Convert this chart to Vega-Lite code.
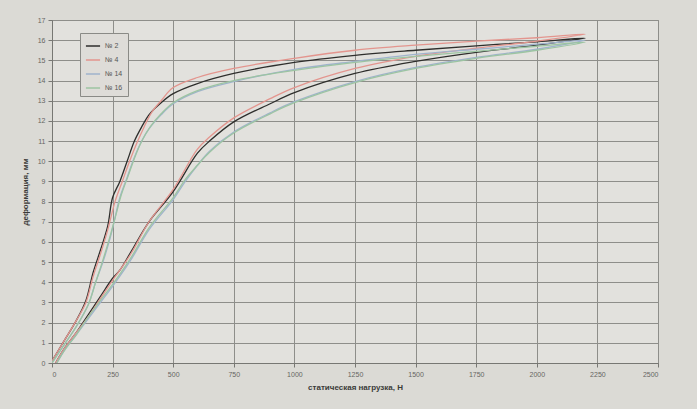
{
  "$schema": "https://vega.github.io/schema/vega-lite/v6.json",
  "autosize": "none",
  "width": 606,
  "height": 343,
  "padding": {"left": 52, "top": 20, "right": 39, "bottom": 46},
  "background": "#dbdad5",
  "config": {
    "view": {"stroke": "#888884", "fill": "#e2e1dd"},
    "axis": {
      "gridColor": "#8e8e8a", "gridOpacity": 1, "gridWidth": 1,
      "domainColor": "#777773", "tickColor": "#777773", "tickSize": 4,
      "labelColor": "#666662", "labelFontSize": 7, "labelFont": "Liberation Sans",
      "titleColor": "#3a3a38", "titleFontSize": 8, "titleFont": "Liberation Sans", "titleFontWeight": "bold"
    }
  },
  "data": {"values": [
    {"s":"№ 2","i":1,"x":0,"y":0.1},{"s":"№ 2","i":2,"x":50,"y":1.1},{"s":"№ 2","i":3,"x":100,"y":2.1},{"s":"№ 2","i":4,"x":140,"y":3.1},{"s":"№ 2","i":5,"x":170,"y":4.5},{"s":"№ 2","i":6,"x":200,"y":5.6},{"s":"№ 2","i":7,"x":230,"y":6.8},{"s":"№ 2","i":8,"x":250,"y":8.2},{"s":"№ 2","i":9,"x":280,"y":9.0},{"s":"№ 2","i":10,"x":310,"y":10.0},{"s":"№ 2","i":11,"x":340,"y":11.0},{"s":"№ 2","i":12,"x":370,"y":11.7},{"s":"№ 2","i":13,"x":400,"y":12.3},{"s":"№ 2","i":14,"x":450,"y":12.9},{"s":"№ 2","i":15,"x":500,"y":13.35},{"s":"№ 2","i":16,"x":600,"y":13.85},{"s":"№ 2","i":17,"x":750,"y":14.35},{"s":"№ 2","i":18,"x":1000,"y":14.9},{"s":"№ 2","i":19,"x":1250,"y":15.25},{"s":"№ 2","i":20,"x":1500,"y":15.5},{"s":"№ 2","i":21,"x":1750,"y":15.72},{"s":"№ 2","i":22,"x":2000,"y":15.92},{"s":"№ 2","i":23,"x":2200,"y":16.1},
    {"s":"№ 2","i":24,"x":2000,"y":15.75},{"s":"№ 2","i":25,"x":1750,"y":15.4},{"s":"№ 2","i":26,"x":1500,"y":14.95},{"s":"№ 2","i":27,"x":1250,"y":14.35},{"s":"№ 2","i":28,"x":1000,"y":13.4},{"s":"№ 2","i":29,"x":900,"y":12.85},{"s":"№ 2","i":30,"x":750,"y":11.95},{"s":"№ 2","i":31,"x":650,"y":11.0},{"s":"№ 2","i":32,"x":600,"y":10.4},{"s":"№ 2","i":33,"x":500,"y":8.5},{"s":"№ 2","i":34,"x":400,"y":7.0},{"s":"№ 2","i":35,"x":330,"y":5.6},{"s":"№ 2","i":36,"x":280,"y":4.6},{"s":"№ 2","i":37,"x":250,"y":4.2},{"s":"№ 2","i":38,"x":200,"y":3.3},{"s":"№ 2","i":39,"x":150,"y":2.4},{"s":"№ 2","i":40,"x":100,"y":1.5},{"s":"№ 2","i":41,"x":50,"y":0.7},{"s":"№ 2","i":42,"x":15,"y":0},

    {"s":"№ 4","i":1,"x":0,"y":0.1},{"s":"№ 4","i":2,"x":50,"y":1.1},{"s":"№ 4","i":3,"x":100,"y":2.1},{"s":"№ 4","i":4,"x":140,"y":3.0},{"s":"№ 4","i":5,"x":170,"y":4.3},{"s":"№ 4","i":6,"x":200,"y":5.4},{"s":"№ 4","i":7,"x":230,"y":6.6},{"s":"№ 4","i":8,"x":260,"y":8.0},{"s":"№ 4","i":9,"x":290,"y":9.0},{"s":"№ 4","i":10,"x":320,"y":10.0},{"s":"№ 4","i":11,"x":350,"y":10.9},{"s":"№ 4","i":12,"x":380,"y":11.7},{"s":"№ 4","i":13,"x":410,"y":12.4},{"s":"№ 4","i":14,"x":450,"y":13.0},{"s":"№ 4","i":15,"x":500,"y":13.65},{"s":"№ 4","i":16,"x":600,"y":14.15},{"s":"№ 4","i":17,"x":750,"y":14.6},{"s":"№ 4","i":18,"x":1000,"y":15.1},{"s":"№ 4","i":19,"x":1250,"y":15.5},{"s":"№ 4","i":20,"x":1500,"y":15.75},{"s":"№ 4","i":21,"x":1750,"y":15.95},{"s":"№ 4","i":22,"x":2000,"y":16.12},{"s":"№ 4","i":23,"x":2200,"y":16.3},
    {"s":"№ 4","i":24,"x":2000,"y":15.95},{"s":"№ 4","i":25,"x":1750,"y":15.6},{"s":"№ 4","i":26,"x":1500,"y":15.2},{"s":"№ 4","i":27,"x":1250,"y":14.6},{"s":"№ 4","i":28,"x":1000,"y":13.65},{"s":"№ 4","i":29,"x":900,"y":13.1},{"s":"№ 4","i":30,"x":750,"y":12.15},{"s":"№ 4","i":31,"x":650,"y":11.2},{"s":"№ 4","i":32,"x":600,"y":10.6},{"s":"№ 4","i":33,"x":500,"y":8.6},{"s":"№ 4","i":34,"x":400,"y":7.0},{"s":"№ 4","i":35,"x":330,"y":5.5},{"s":"№ 4","i":36,"x":280,"y":4.6},{"s":"№ 4","i":37,"x":250,"y":4.1},{"s":"№ 4","i":38,"x":200,"y":3.2},{"s":"№ 4","i":39,"x":150,"y":2.3},{"s":"№ 4","i":40,"x":100,"y":1.5},{"s":"№ 4","i":41,"x":50,"y":0.7},{"s":"№ 4","i":42,"x":15,"y":0},

    {"s":"№ 14","i":1,"x":0,"y":0},{"s":"№ 14","i":2,"x":50,"y":0.9},{"s":"№ 14","i":3,"x":100,"y":1.8},{"s":"№ 14","i":4,"x":150,"y":2.9},{"s":"№ 14","i":5,"x":180,"y":4.0},{"s":"№ 14","i":6,"x":210,"y":5.0},{"s":"№ 14","i":7,"x":240,"y":6.2},{"s":"№ 14","i":8,"x":260,"y":7.2},{"s":"№ 14","i":9,"x":280,"y":8.2},{"s":"№ 14","i":10,"x":310,"y":9.2},{"s":"№ 14","i":11,"x":340,"y":10.2},{"s":"№ 14","i":12,"x":370,"y":11.0},{"s":"№ 14","i":13,"x":400,"y":11.6},{"s":"№ 14","i":14,"x":450,"y":12.3},{"s":"№ 14","i":15,"x":500,"y":12.85},{"s":"№ 14","i":16,"x":600,"y":13.45},{"s":"№ 14","i":17,"x":750,"y":13.95},{"s":"№ 14","i":18,"x":1000,"y":14.55},{"s":"№ 14","i":19,"x":1250,"y":14.95},{"s":"№ 14","i":20,"x":1500,"y":15.3},{"s":"№ 14","i":21,"x":1750,"y":15.55},{"s":"№ 14","i":22,"x":2000,"y":15.8},{"s":"№ 14","i":23,"x":2200,"y":16.0},
    {"s":"№ 14","i":24,"x":2000,"y":15.55},{"s":"№ 14","i":25,"x":1750,"y":15.15},{"s":"№ 14","i":26,"x":1500,"y":14.65},{"s":"№ 14","i":27,"x":1250,"y":13.95},{"s":"№ 14","i":28,"x":1000,"y":12.95},{"s":"№ 14","i":29,"x":900,"y":12.4},{"s":"№ 14","i":30,"x":750,"y":11.45},{"s":"№ 14","i":31,"x":650,"y":10.5},{"s":"№ 14","i":32,"x":600,"y":9.8},{"s":"№ 14","i":33,"x":550,"y":9.0},{"s":"№ 14","i":34,"x":500,"y":8.1},{"s":"№ 14","i":35,"x":400,"y":6.6},{"s":"№ 14","i":36,"x":330,"y":5.2},{"s":"№ 14","i":37,"x":280,"y":4.3},{"s":"№ 14","i":38,"x":250,"y":3.8},{"s":"№ 14","i":39,"x":200,"y":3.0},{"s":"№ 14","i":40,"x":150,"y":2.2},{"s":"№ 14","i":41,"x":100,"y":1.4},{"s":"№ 14","i":42,"x":50,"y":0.6},{"s":"№ 14","i":43,"x":20,"y":0},

    {"s":"№ 16","i":1,"x":0,"y":0},{"s":"№ 16","i":2,"x":50,"y":0.9},{"s":"№ 16","i":3,"x":100,"y":1.8},{"s":"№ 16","i":4,"x":150,"y":2.9},{"s":"№ 16","i":5,"x":180,"y":4.0},{"s":"№ 16","i":6,"x":210,"y":5.1},{"s":"№ 16","i":7,"x":240,"y":6.3},{"s":"№ 16","i":8,"x":265,"y":7.4},{"s":"№ 16","i":9,"x":285,"y":8.3},{"s":"№ 16","i":10,"x":315,"y":9.3},{"s":"№ 16","i":11,"x":345,"y":10.3},{"s":"№ 16","i":12,"x":375,"y":11.1},{"s":"№ 16","i":13,"x":405,"y":11.7},{"s":"№ 16","i":14,"x":450,"y":12.35},{"s":"№ 16","i":15,"x":500,"y":12.9},{"s":"№ 16","i":16,"x":600,"y":13.5},{"s":"№ 16","i":17,"x":750,"y":14.0},{"s":"№ 16","i":18,"x":1000,"y":14.5},{"s":"№ 16","i":19,"x":1250,"y":14.9},{"s":"№ 16","i":20,"x":1500,"y":15.2},{"s":"№ 16","i":21,"x":1750,"y":15.45},{"s":"№ 16","i":22,"x":2000,"y":15.7},{"s":"№ 16","i":23,"x":2200,"y":15.9},
    {"s":"№ 16","i":24,"x":2000,"y":15.5},{"s":"№ 16","i":25,"x":1750,"y":15.1},{"s":"№ 16","i":26,"x":1500,"y":14.6},{"s":"№ 16","i":27,"x":1250,"y":13.9},{"s":"№ 16","i":28,"x":1000,"y":12.9},{"s":"№ 16","i":29,"x":900,"y":12.35},{"s":"№ 16","i":30,"x":750,"y":11.4},{"s":"№ 16","i":31,"x":650,"y":10.45},{"s":"№ 16","i":32,"x":600,"y":9.8},{"s":"№ 16","i":33,"x":550,"y":9.1},{"s":"№ 16","i":34,"x":500,"y":8.2},{"s":"№ 16","i":35,"x":400,"y":6.7},{"s":"№ 16","i":36,"x":330,"y":5.3},{"s":"№ 16","i":37,"x":280,"y":4.4},{"s":"№ 16","i":38,"x":250,"y":3.9},{"s":"№ 16","i":39,"x":200,"y":3.1},{"s":"№ 16","i":40,"x":150,"y":2.3},{"s":"№ 16","i":41,"x":100,"y":1.4},{"s":"№ 16","i":42,"x":50,"y":0.6},{"s":"№ 16","i":43,"x":20,"y":0}
  ]},
  "mark": {"type": "line", "strokeWidth": 1.3, "clip": true, "interpolate": "catmull-rom"},
  "encoding": {
    "x": {"field": "x", "type": "quantitative", "title": "статическая нагрузка, Н",
      "scale": {"domain": [0, 2500], "nice": false},
      "axis": {"values": [0,250,500,750,1000,1250,1500,1750,2000,2250,2500], "format": "d", "labelPadding": 3, "titlePadding": 6}},
    "y": {"field": "y", "type": "quantitative", "title": "деформация, мм",
      "scale": {"domain": [0, 17], "nice": false},
      "axis": {"values": [0,1,2,3,4,5,6,7,8,9,10,11,12,13,14,15,16,17], "labelPadding": 3, "titlePadding": 8}},
    "color": {"field": "s", "type": "nominal",
      "scale": {"domain": ["№ 2","№ 4","№ 14","№ 16"], "range": ["#2e2e2c","#e3958e","#9fb3cc","#9cc4a2"]},
      "legend": {"title": null, "orient": "none", "legendX": 28, "legendY": 13,
        "symbolType": "stroke", "symbolSize": 200, "symbolStrokeWidth": 1.5,
        "labelFontSize": 7, "labelColor": "#555", "labelFont": "Liberation Sans",
        "rowPadding": 3, "padding": 5, "strokeColor": "#8a8a86", "fillColor": "#dedcd8"}},
    "order": {"field": "i", "type": "quantitative"}
  }
}
